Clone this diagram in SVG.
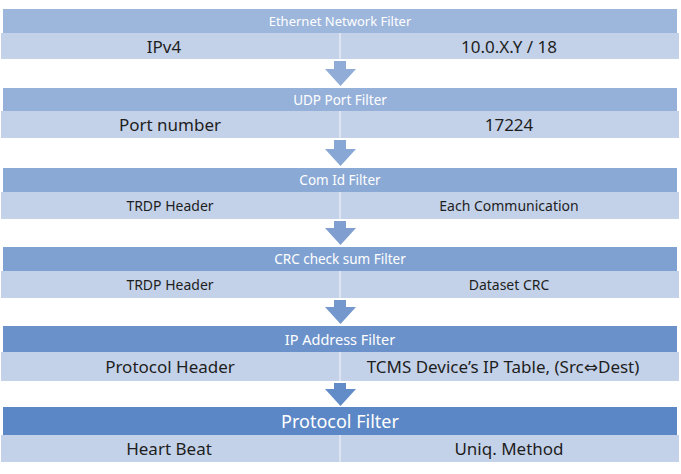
<svg xmlns="http://www.w3.org/2000/svg" width="681" height="474" viewBox="0 0 681 474">
<style>
.hd{font-family:"Noto Sans","Open Sans","DejaVu Sans",sans-serif;fill:#ffffff;text-anchor:middle;dominant-baseline:central}
.rt{font-family:"Noto Sans","Open Sans","DejaVu Sans",sans-serif;fill:#1e1e1e;text-anchor:middle;dominant-baseline:central}
.row{fill:#c4d2e9}
.div{stroke:#dce4f2;stroke-width:2}
</style>
<rect width="681" height="474" fill="#ffffff"/>
<g id="connectors">
<path d="M334,61 H346 V69 H356 L340.5,86 L325,69 H334 Z" fill="#90acd7"/>
<path d="M334,140 H346 V149 H356 L340.5,166 L325,149 H334 Z" fill="#88a7d4"/>
<path d="M334,221 H346 V228 H356 L340.5,245 L325,228 H334 Z" fill="#809fd0"/>
<path d="M334,300 H346 V307 H356 L340.5,324 L325,307 H334 Z" fill="#7498cd"/>
<path d="M334,383 H346 V389 H356 L340.5,406 L325,389 H334 Z" fill="#628cc8"/>
</g>
<g id="ethernet-filter">
<rect x="3" y="9" width="674" height="24" fill="#9db6dc"/>
<text class="hd" x="340" y="21" font-size="13">Ethernet Network Filter</text>
<rect class="row" x="1" y="33" width="678" height="26"/>
<line class="div" x1="340" y1="33" x2="340" y2="59"/>
<text class="rt" x="164" y="46" font-size="17">IPv4</text>
<text class="rt" x="509" y="46" font-size="17">10.0.X.Y / 18</text>
</g>
<g id="udp-port-filter">
<rect x="3" y="88" width="674" height="23" fill="#95b0d9"/>
<text class="hd" x="340" y="99.5" font-size="13.5">UDP Port Filter</text>
<rect class="row" x="1" y="111" width="678" height="27"/>
<line class="div" x1="340" y1="111" x2="340" y2="138"/>
<text class="rt" x="170" y="124.5" font-size="17">Port number</text>
<text class="rt" x="509" y="124.5" font-size="17">17224</text>
</g>
<g id="com-id-filter">
<rect x="3" y="168" width="674" height="24" fill="#8aa9d5"/>
<text class="hd" x="340" y="180" font-size="13.5">Com Id Filter</text>
<rect class="row" x="1" y="192" width="678" height="27"/>
<line class="div" x1="340" y1="192" x2="340" y2="219"/>
<text class="rt" x="170" y="205.5" font-size="14">TRDP Header</text>
<text class="rt" x="509" y="205.5" font-size="14">Each Communication</text>
</g>
<g id="crc-filter">
<rect x="3" y="247" width="674" height="24" fill="#7fa1d1"/>
<text class="hd" x="340" y="259" font-size="13.5">CRC check sum Filter</text>
<rect class="row" x="1" y="271" width="678" height="27"/>
<line class="div" x1="340" y1="271" x2="340" y2="298"/>
<text class="rt" x="170" y="284.5" font-size="14">TRDP Header</text>
<text class="rt" x="509" y="284.5" font-size="14">Dataset CRC</text>
</g>
<g id="ip-address-filter">
<rect x="3" y="326" width="674" height="26" fill="#6b91ca"/>
<text class="hd" x="340" y="339" font-size="14.5">IP Address Filter</text>
<rect class="row" x="1" y="352" width="678" height="29"/>
<line class="div" x1="340" y1="352" x2="340" y2="381"/>
<text class="rt" x="170" y="366.5" font-size="17">Protocol Header</text>
<text class="rt" x="503" y="366.5" font-size="17">TCMS Device’s IP Table, (Src⇔Dest)</text>
</g>
<g id="protocol-filter">
<rect x="3" y="407" width="674" height="28" fill="#5c87c6"/>
<text class="hd" x="340" y="421" font-size="18">Protocol Filter</text>
<rect class="row" x="1" y="435" width="678" height="27"/>
<line class="div" x1="340" y1="435" x2="340" y2="462"/>
<text class="rt" x="169" y="448.5" font-size="17">Heart Beat</text>
<text class="rt" x="509" y="448.5" font-size="17">Uniq. Method</text>
</g>
</svg>
